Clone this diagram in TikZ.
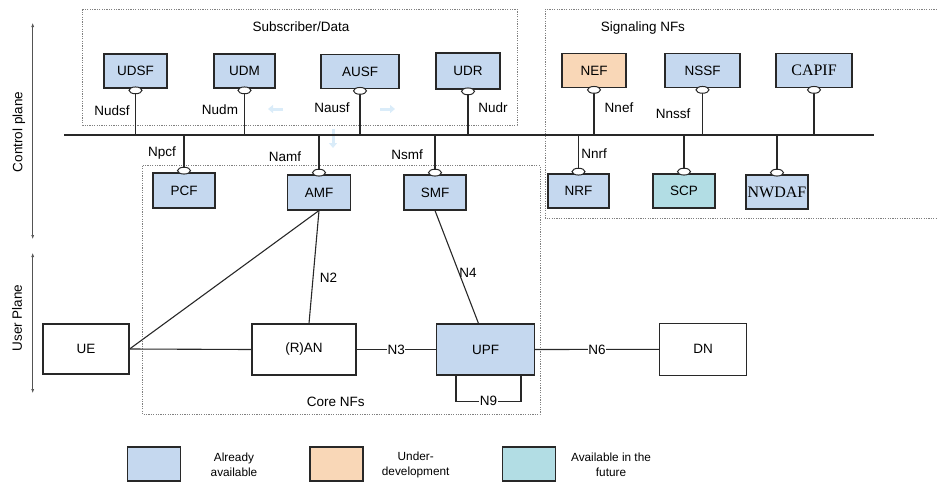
\documentclass[tikz,border=0pt]{standalone}
\usepackage{fontspec}
\setmainfont{Liberation Sans}
\newfontfamily\tnr{Liberation Serif}
\usetikzlibrary{arrows.meta}
\definecolor{avail}{RGB}{197,216,239}
\definecolor{underdev}{RGB}{249,215,183}
\definecolor{future}{RGB}{178,221,228}
\definecolor{ln}{RGB}{40,40,40}
\definecolor{ghost}{RGB}{218,236,249}
\begin{document}
\begin{tikzpicture}[x=1pt,y=-1pt,
  font=\fontsize{13.5}{16}\selectfont,
  nf/.style={draw=ln, line width=1.1pt, fill=avail, inner sep=0pt, minimum height=34pt},
  nfw/.style={nf, fill=white, minimum height=51pt},
  lbl/.style={inner sep=1pt},
  conn/.style={draw=ln, line width=1.1pt},
  grp/.style={draw=gray, line width=0.7pt, dash pattern=on 1.2pt off 1.2pt},
  inl/.style={fill=white, inner sep=0.5pt},
  plane/.style={draw=ln!80, line width=0.6pt, {Latex[length=4pt,width=3pt]}-{Latex[length=4pt,width=3pt]}},
  ghostarrow/.style={draw=ghost, line width=3pt, -{Triangle[length=5pt,width=8pt]}},
  legtext/.style={align=center, font=\fontsize{11.8}{14.5}\selectfont},
  oval/.style={draw=ln, line width=1pt, fill=white}
]
\useasboundingbox (0,0) rectangle (937,482);

% group boxes
\draw[grp] (82.7,9.3) rectangle (517,125);
\draw[grp] (937,9.3) -- (545,9.3) -- (545,218) -- (937,218);
\draw[grp] (142.7,165.7) rectangle (540,414.5);
\node[lbl] (tsub) at (301,27) {Subscriber/Data};
\node[lbl] (tsig) at (643,28) {Signaling NFs};
\node[lbl] (tcore) at (335.7,402) {Core NFs};

% plane arrows
\coordinate (cpT) at (32.7,23);
\coordinate (cpB) at (32.7,239);
\coordinate (upT) at (32.7,253);
\coordinate (upB) at (32.7,393);
\draw[plane] (cpT) -- (cpB);
\draw[plane] (upT) -- (upB);
\node[lbl, rotate=90] (tcp) at (19,132) {Control plane};
\node[lbl, rotate=90] (tup) at (17,318) {User Plane};

% faint arrows
\draw[ghostarrow] (283,109) -- (268,109);
\draw[ghostarrow] (380,109) -- (395,109);
\draw[ghostarrow] (333,129) -- (333,148);

% top row
\node[nf, minimum width=63pt] (udsf) at (135.5,71) {UDSF};
\node[nf, minimum width=61pt] (udm) at (244.5,71) {UDM};
\node[nf, minimum width=78pt] (ausf) at (360,71.5) {AUSF};
\node[nf, minimum width=64pt, minimum height=36pt] (udr) at (468,71) {UDR};
\node[nf, minimum width=64pt, fill=underdev] (nef) at (594,70.5) {NEF};
\node[nf, minimum width=75pt] (nssf) at (702.5,70.5) {NSSF};
\node[nf, minimum width=76pt, font=\tnr\fontsize{16}{18}\selectfont] (capif) at (814,70.5) {CAPIF};

% lower row
\node[nf, minimum width=62pt, minimum height=35pt] (pcf) at (184,190.5) {PCF};
\node[nf, minimum width=63pt, minimum height=35pt] (amf) at (319,192.5) {AMF};
\node[nf, minimum width=62pt, minimum height=35pt] (smf) at (435,192.5) {SMF};
\node[nf, minimum width=61pt, minimum height=34pt] (nrf) at (578.5,191) {NRF};
\node[nf, minimum width=62pt, minimum height=34pt, fill=future] (scp) at (684,191) {SCP};
\node[nf, minimum width=62pt, minimum height=34pt, font=\tnr\fontsize{16}{18}\selectfont] (nwdaf) at (777,192) {NWDAF};

% user plane
\node[nfw, minimum width=86pt, minimum height=50pt] (ue) at (86,349) {UE};
\node[nfw, minimum width=104pt] (ran) at (304,349.5) {(R)AN};
\node[nf, minimum width=98pt, minimum height=51pt] (upf) at (485.5,349.5) {UPF};
\node[nfw, minimum width=87pt, minimum height=52pt] (dn) at (703,349.3) {DN};

% bus
\coordinate (busL) at (64,135);
\coordinate (busR) at (874,135);
\draw[conn] (busL) -- (busR);

\foreach \n in {udsf,udm,ausf,udr,nef,nssf,capif}{
  \draw[conn] (\n.south) -- (\n.south |- busL);
}
\foreach \n in {pcf,amf,smf,nrf,scp,nwdaf}{
  \draw[conn] (\n.north) -- (\n.north |- busL);
}
\foreach \n in {udsf,udm,ausf,udr,nef,nssf,capif}{
  \draw[oval] ([yshift=-1.8pt]\n.south) ellipse (6.5pt and 3.4pt);
}
\foreach \n in {pcf,amf,smf,nrf,scp,nwdaf}{
  \draw[oval] ([yshift=1.8pt]\n.north) ellipse (6.5pt and 3.4pt);
}

% interface labels
\node[lbl] (lnudsf) at (112,110.7) {Nudsf};
\node[lbl] (lnudm) at (220,110) {Nudm};
\node[lbl] (lnausf) at (332,108) {Nausf};
\node[lbl] (lnudr) at (493,108) {Nudr};
\node[lbl] (lnnef) at (619,108) {Nnef};
\node[lbl] (lnnssf) at (673,114) {Nnssf};
\node[lbl] (lnpcf) at (162,152.7) {Npcf};
\node[lbl] (lnamf) at (285,156.7) {Namf};
\node[lbl] (lnsmf) at (407,155) {Nsmf};
\node[lbl] (lnnrf) at (594,154) {Nnrf};

% user plane connectors
\draw[conn] (ue.east) -- (ran.west);
\draw[conn] (ue.east) -- (amf.south);
\draw[conn] (amf.south) -- ([xshift=5pt]ran.north);
\draw[conn] (smf.south) -- ([xshift=-7pt]upf.north);
\node[lbl] (ln2) at (328.6,277.7) {N2};
\node[lbl] (ln4) at (468,273) {N4};
\draw[conn] (ran.east) -- node[inl] (ln3) {N3} (upf.west);
\draw[conn] (upf.east) -- node[inl] (ln6) {N6} (dn.west);
\coordinate (n9a) at ([xshift=-29.5pt]upf.south);
\coordinate (n9b) at ([xshift=35.5pt]upf.south);
\draw[conn] (n9a) -- ++(0,25.7) -| node[inl, pos=0.25] (ln9) {N9} (n9b);

% legend
\node[nf, minimum width=53pt, minimum height=34pt] (lg1) at (154,464) {};
\node[nf, minimum width=53pt, minimum height=34pt, fill=underdev] (lg2) at (336.5,464) {};
\node[nf, minimum width=53pt, minimum height=34pt, fill=future] (lg3) at (529.3,464) {};
\node[legtext] (lt1) at (234,465) {Already\\available};
\node[legtext] (lt2) at (415.7,465) {Under-\\development};
\node[legtext] (lt3) at (611,465) {Available in the\\future};
\end{tikzpicture}
\end{document}
